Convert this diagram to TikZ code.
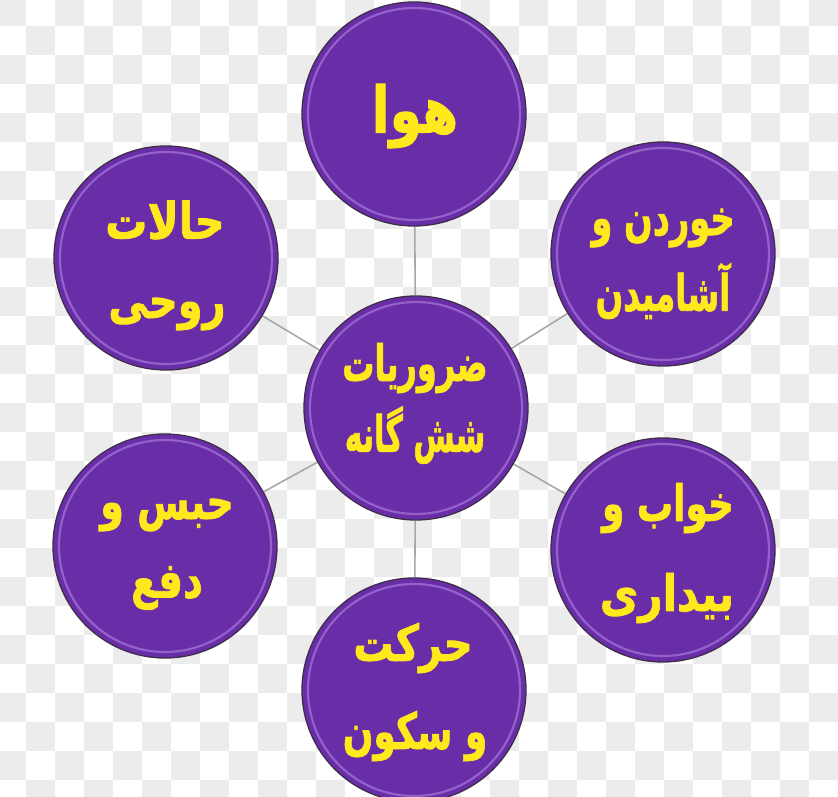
\documentclass[tikz,border=0pt]{standalone}
\usepackage{fontspec}
\TeXXeTstate=1
\newfontfamily\arabicfont[Script=Arabic, BoldFeatures={FakeBold=1.6}]{DejaVu Sans}
\definecolor{bubble}{HTML}{6A2DA8}
\definecolor{rim}{HTML}{3E2E4A}
\definecolor{shine}{HTML}{B48EE6}
\definecolor{txt}{HTML}{FFE81C}
\definecolor{checker}{HTML}{ECECEC}
\definecolor{link}{HTML}{A9A6AC}
\pgfdeclarelayer{bg}
\pgfsetlayers{bg,main}
\newcommand\fatext[3]{\scalebox{#1}[#2]{\arabicfont\bfseries #3}}
\tikzset{
  bubblenode/.style={circle, minimum size=224pt, inner sep=0pt, fill=bubble, draw=rim, line width=1.3pt,
    path picture={\draw[shine, line width=2.2pt, opacity=0.55] (path picture bounding box.center) circle (106pt);}},
  lbl/.style={text=txt, inner sep=0pt, font=\arabicfont\bfseries\fontsize{40}{40}\selectfont},
  linkline/.style={draw=link, line width=1.6pt}
}
\begin{document}
\begin{tikzpicture}[x=1pt, y=-1pt]
\useasboundingbox (0,0) rectangle (838,797);
\begin{scope}
\clip (0,0) rectangle (838,797);
% circles
\node[bubblenode] (c)  at (416,408) {};
\node[bubblenode] (t)  at (414,114) {};
\node[bubblenode] (tl) at (166,258) {};
\node[bubblenode] (tr) at (663,254) {};
\node[bubblenode] (bl) at (165,546) {};
\node[bubblenode] (br) at (663,550) {};
\node[bubblenode] (b)  at (414,690) {};
\begin{pgfonlayer}{bg}
\fill[white] (0,0) rectangle (838,797);
\foreach \i in {0,...,29}{
  \foreach \j in {0,...,28}{
    \pgfmathtruncatemacro\chk{mod(\i+\j,2)}
    \ifnum\chk=0
      \fill[checker] ({-3+29*\i},{-3+29*\j}) rectangle ++(29,29);
    \fi
  }
}
\foreach \o in {t,tl,tr,bl,br,b}{
  \path[linkline] (c) -- (\o);
}
\end{pgfonlayer}
\end{scope}
% labels
\node[lbl] (t1) at (415,116) {\fatext{1.3}{1.6}{\beginR هوا\endR}};
\node[lbl] (tl1) at (165,220) {\fatext{1.05}{1.25}{\beginR حالات\endR}};
\node[lbl] (tl2) at (167,314) {\fatext{1.0}{1.25}{\beginR روحی\endR}};
\node[lbl] (tr1) at (663,228) {\fatext{0.84}{1.25}{\beginR خوردن و\endR}};
\node[lbl] (tr2) at (663,291) {\fatext{0.81}{1.25}{\beginR آشامیدن\endR}};
\node[lbl] (c1) at (415,368) {\fatext{0.8}{1.25}{\beginR ضروریات\endR}};
\node[lbl] (c2) at (415,435) {\fatext{0.75}{1.25}{\beginR شش گانه\endR}};
\node[lbl] (bl1) at (167,515) {\fatext{0.95}{1.25}{\beginR حبس و\endR}};
\node[lbl] (bl2) at (167,588) {\fatext{0.97}{1.25}{\beginR دفع\endR}};
\node[lbl] (br1) at (668,508) {\fatext{0.9}{1.25}{\beginR خواب و\endR}};
\node[lbl] (br2) at (667,598) {\fatext{1.05}{1.25}{\beginR بیداری\endR}};
\node[lbl] (b1) at (413,648) {\fatext{1.0}{1.25}{\beginR حرکت\endR}};
\node[lbl] (b2) at (415,736) {\fatext{0.9}{1.25}{\beginR و سکون\endR}};
\end{tikzpicture}
\end{document}
